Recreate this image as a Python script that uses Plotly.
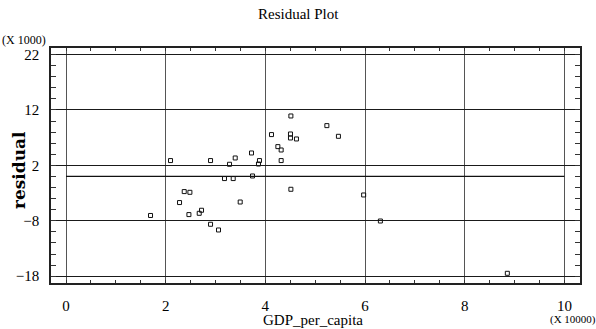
import numpy as np
import plotly.graph_objects as go

# GDP per capita (dollars) and regression residuals (dollars)
gdp_per_capita = [16960, 20970, 22780, 23720, 24860, 24660, 26730, 27190, 29000, 29000,
                  30600, 31800, 32810, 33550, 33950, 34950, 37220, 37420, 38620, 38820,
                  41230, 42510, 43170, 43170, 45120, 45040, 45040, 45120, 46240, 52340,
                  54660, 59720, 63080, 88550]
residual = [-7040, 2870, -4710, -2730, -2860, -6880, -6650, -6100, 2870, -8630,
            -9660, -380, 2200, -380, 3340, -4610, 4240, 90, 2250, 2870,
            7560, 5390, 4780, 2870, 10920, 7670, 6950, -2310, 6770, 9180,
            7250, -3340, -8040, -17480]

# zero-residual reference line
zero_line_x = [0, 100000]
zero_line_y = [0, 0]

# axis scale factors shown as "(X ...)" labels
x_scale = 10000
y_scale = 1000

x_plot = np.array(gdp_per_capita) / x_scale
y_plot = np.array(residual) / y_scale

serif = "Liberation Serif, Times New Roman, serif"

fig = go.Figure()
fig.add_trace(go.Scatter(
    x=np.array(zero_line_x) / x_scale, y=np.array(zero_line_y) / y_scale,
    mode="lines", line=dict(color="#111111", width=1.3),
    hoverinfo="skip", showlegend=False,
))
fig.add_trace(go.Scatter(
    x=x_plot, y=y_plot, mode="markers",
    marker=dict(symbol="square-open", size=4, color="#111111", line=dict(width=1, color="#111111")),
    showlegend=False,
))

L, R, T, B = 51, 16, 48, 46
W, H = 596, 329
pw, ph = W - L - R, H - T - B


def px(x):
    return (x - L) / pw


def py(y):
    return (H - B - y) / ph


fig.update_layout(
    width=W, height=H,
    margin=dict(l=L, r=R, t=T, b=B),
    paper_bgcolor="white", plot_bgcolor="white",
    font=dict(family=serif, color="black", size=15),
    xaxis=dict(
        range=[-0.301, 10.313], tickmode="linear", tick0=0, dtick=2,
        showgrid=True, gridcolor="#555555", gridwidth=1, zeroline=False,
        showline=True, linecolor="#222222", linewidth=1.5, mirror="ticks",
        ticks="inside", ticklen=3, tickcolor="#333333",
        minor=dict(tickmode="linear", tick0=0, dtick=0.5, ticks="inside", ticklen=3,
                   tickcolor="#333333", showgrid=False),
        ticklabelstandoff=8,
        tickfont=dict(family=serif, size=15),
    ),
    yaxis=dict(
        range=[-19.23, 23.19], tickmode="linear", tick0=2, dtick=10,
        showgrid=True, gridcolor="#1a1a1a", gridwidth=1.2, zeroline=False,
        showline=True, linecolor="#222222", linewidth=1.5, mirror="ticks",
        ticks="inside", ticklen=5, tickcolor="#333333",
        minor=dict(tickmode="linear", tick0=0, dtick=2, ticks="inside", ticklen=5,
                   tickcolor="#333333", showgrid=False),
        ticklabelstandoff=7,
        tickfont=dict(family=serif, size=15),
    ),
    annotations=[
        dict(text="Residual Plot", x=px(298), y=py(14), xref="paper", yref="paper",
             xanchor="center", yanchor="middle", showarrow=False,
             font=dict(family=serif, size=15)),
        dict(text="residual", x=px(19), y=py(170), xref="paper", yref="paper",
             xanchor="center", yanchor="middle", showarrow=False, textangle=-90,
             font=dict(family="DejaVu Serif, serif", size=17, weight="bold")),
        dict(text="GDP_per_capita", x=px(313), y=py(320), xref="paper", yref="paper",
             xanchor="center", yanchor="middle", showarrow=False,
             font=dict(family=serif, size=15)),
        dict(text="(X 1000)", x=px(24), y=py(40), xref="paper", yref="paper",
             xanchor="center", yanchor="middle", showarrow=False,
             font=dict(family=serif, size=12)),
        dict(text="(X 10000)", x=px(548), y=py(319), xref="paper", yref="paper",
             xanchor="left", yanchor="middle", showarrow=False,
             font=dict(family=serif, size=11)),
    ],
)

fig.write_html("out.html")
